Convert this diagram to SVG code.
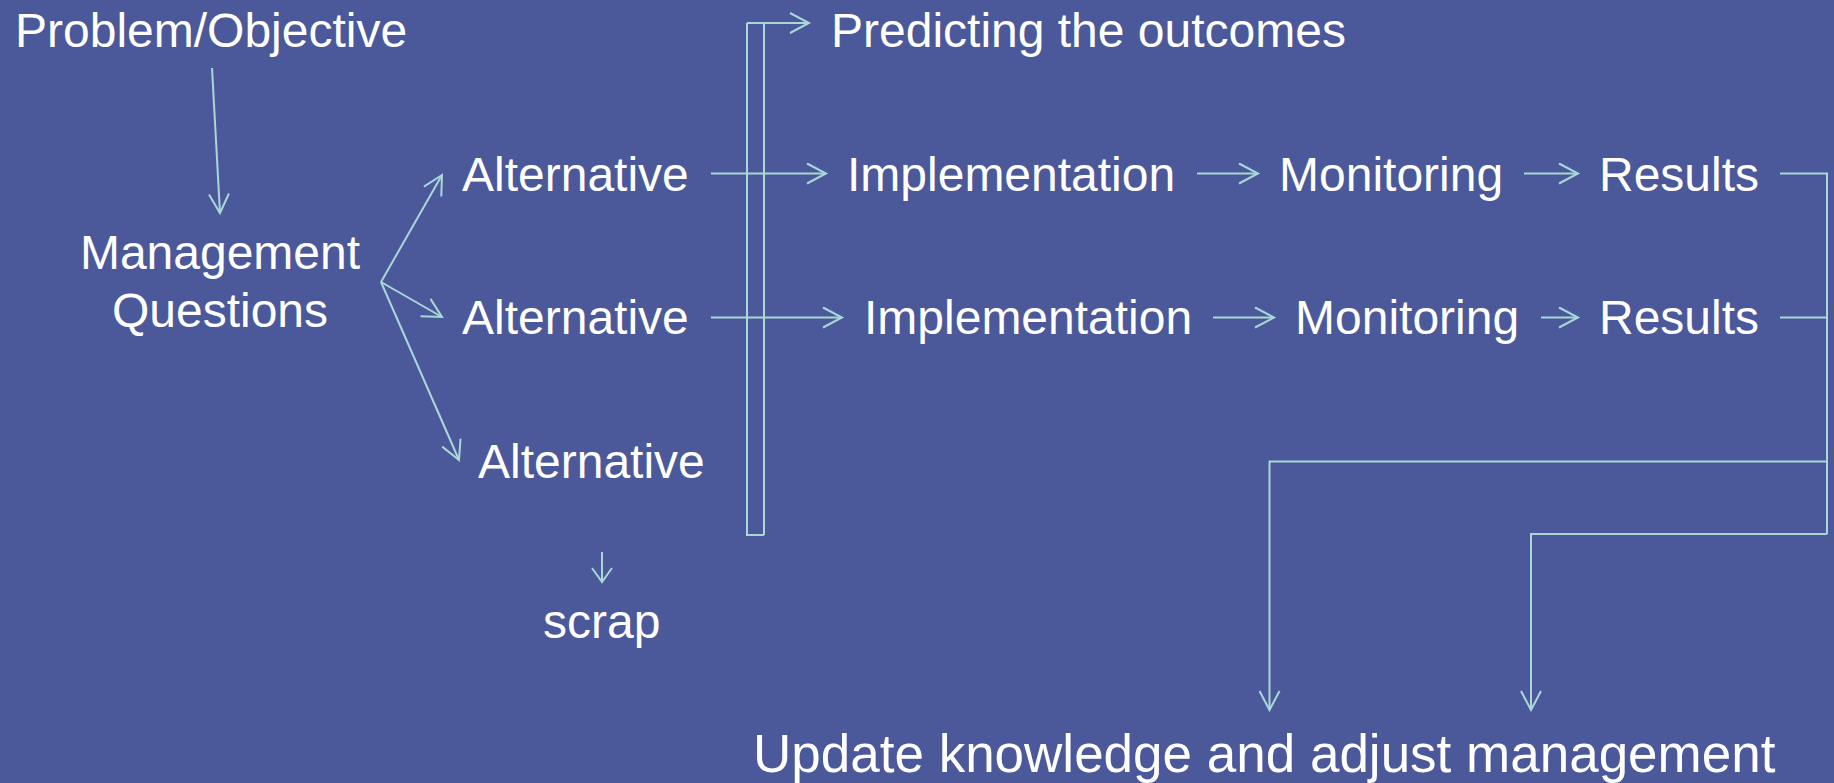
<svg xmlns="http://www.w3.org/2000/svg" width="1834" height="783" viewBox="0 0 1834 783">
<defs>
<style>
.t{font-family:"Liberation Sans",Arial,sans-serif;font-size:48px;fill:#FFFFFF}
.c{fill:none;stroke:#A8D8D8;stroke-width:2}
</style>
<marker id="ah" markerUnits="userSpaceOnUse" viewBox="-22 -12 24 24" markerWidth="24" markerHeight="24" refX="0" refY="0" orient="auto" overflow="visible">
<path d="M-19,-10 L0,0 L-19,10" fill="none" stroke="#A8D8D8" stroke-width="2"/>
</marker>
<marker id="ahs" markerUnits="userSpaceOnUse" viewBox="-22 -12 24 24" markerWidth="24" markerHeight="24" refX="0" refY="0" orient="auto" overflow="visible">
<path d="M-14,-10 L0,0 L-14,10" fill="none" stroke="#A8D8D8" stroke-width="2"/>
</marker>
</defs>
<rect x="0" y="0" width="1834" height="783" fill="#4B5899"/>
<g id="connectors">
<line class="c" x1="212" y1="68" x2="220" y2="213" marker-end="url(#ah)"/>
<line class="c" x1="381" y1="282" x2="442" y2="175" marker-end="url(#ah)"/>
<line class="c" x1="381" y1="282" x2="442" y2="317" marker-end="url(#ah)"/>
<line class="c" x1="381" y1="282" x2="459" y2="460" marker-end="url(#ah)"/>
<line class="c" x1="602" y1="552" x2="602" y2="582" marker-end="url(#ahs)"/>
<path class="c" d="M764,535 V23 M747,23 V535 H764 M747,23 H809" marker-end="url(#ah)"/>
<line class="c" x1="711" y1="173.5" x2="826" y2="173.5" marker-end="url(#ah)"/>
<line class="c" x1="711" y1="317.5" x2="842" y2="317.5" marker-end="url(#ah)"/>
<line class="c" x1="1197" y1="173.5" x2="1258" y2="173.5" marker-end="url(#ah)"/>
<line class="c" x1="1524" y1="173.5" x2="1578" y2="173.5" marker-end="url(#ah)"/>
<line class="c" x1="1213" y1="317.5" x2="1274" y2="317.5" marker-end="url(#ah)"/>
<line class="c" x1="1541" y1="317.5" x2="1578" y2="317.5" marker-end="url(#ah)"/>
<path class="c" d="M1780,173.5 H1827 V534 M1780,317.5 H1827"/>
<path class="c" d="M1827,461.5 H1269.5 V710" marker-end="url(#ah)"/>
<path class="c" d="M1827,534 H1531 V710" marker-end="url(#ah)"/>
</g>
<g id="problem"><text class="t" x="15" y="47">Problem/Objective</text></g>
<g id="questions"><text class="t" x="220" y="269" text-anchor="middle">Management</text><text class="t" x="220" y="327" text-anchor="middle">Questions</text></g>
<g id="alt1"><text class="t" x="462" y="191">Alternative</text></g>
<g id="alt2"><text class="t" x="462" y="334">Alternative</text></g>
<g id="alt3"><text class="t" x="478" y="478">Alternative</text></g>
<g id="scrap"><text class="t" x="543" y="638">scrap</text></g>
<g id="predicting"><text class="t" x="831" y="47">Predicting the outcomes</text></g>
<g id="impl1"><text class="t" x="847" y="191">Implementation</text></g>
<g id="mon1"><text class="t" x="1279" y="191">Monitoring</text></g>
<g id="res1"><text class="t" x="1599" y="191">Results</text></g>
<g id="impl2"><text class="t" x="864" y="334">Implementation</text></g>
<g id="mon2"><text class="t" x="1295" y="334">Monitoring</text></g>
<g id="res2"><text class="t" x="1599" y="334">Results</text></g>
<g id="update"><text class="t" x="753" y="772" style="font-size:53px">Update knowledge and adjust management</text></g>
</svg>
